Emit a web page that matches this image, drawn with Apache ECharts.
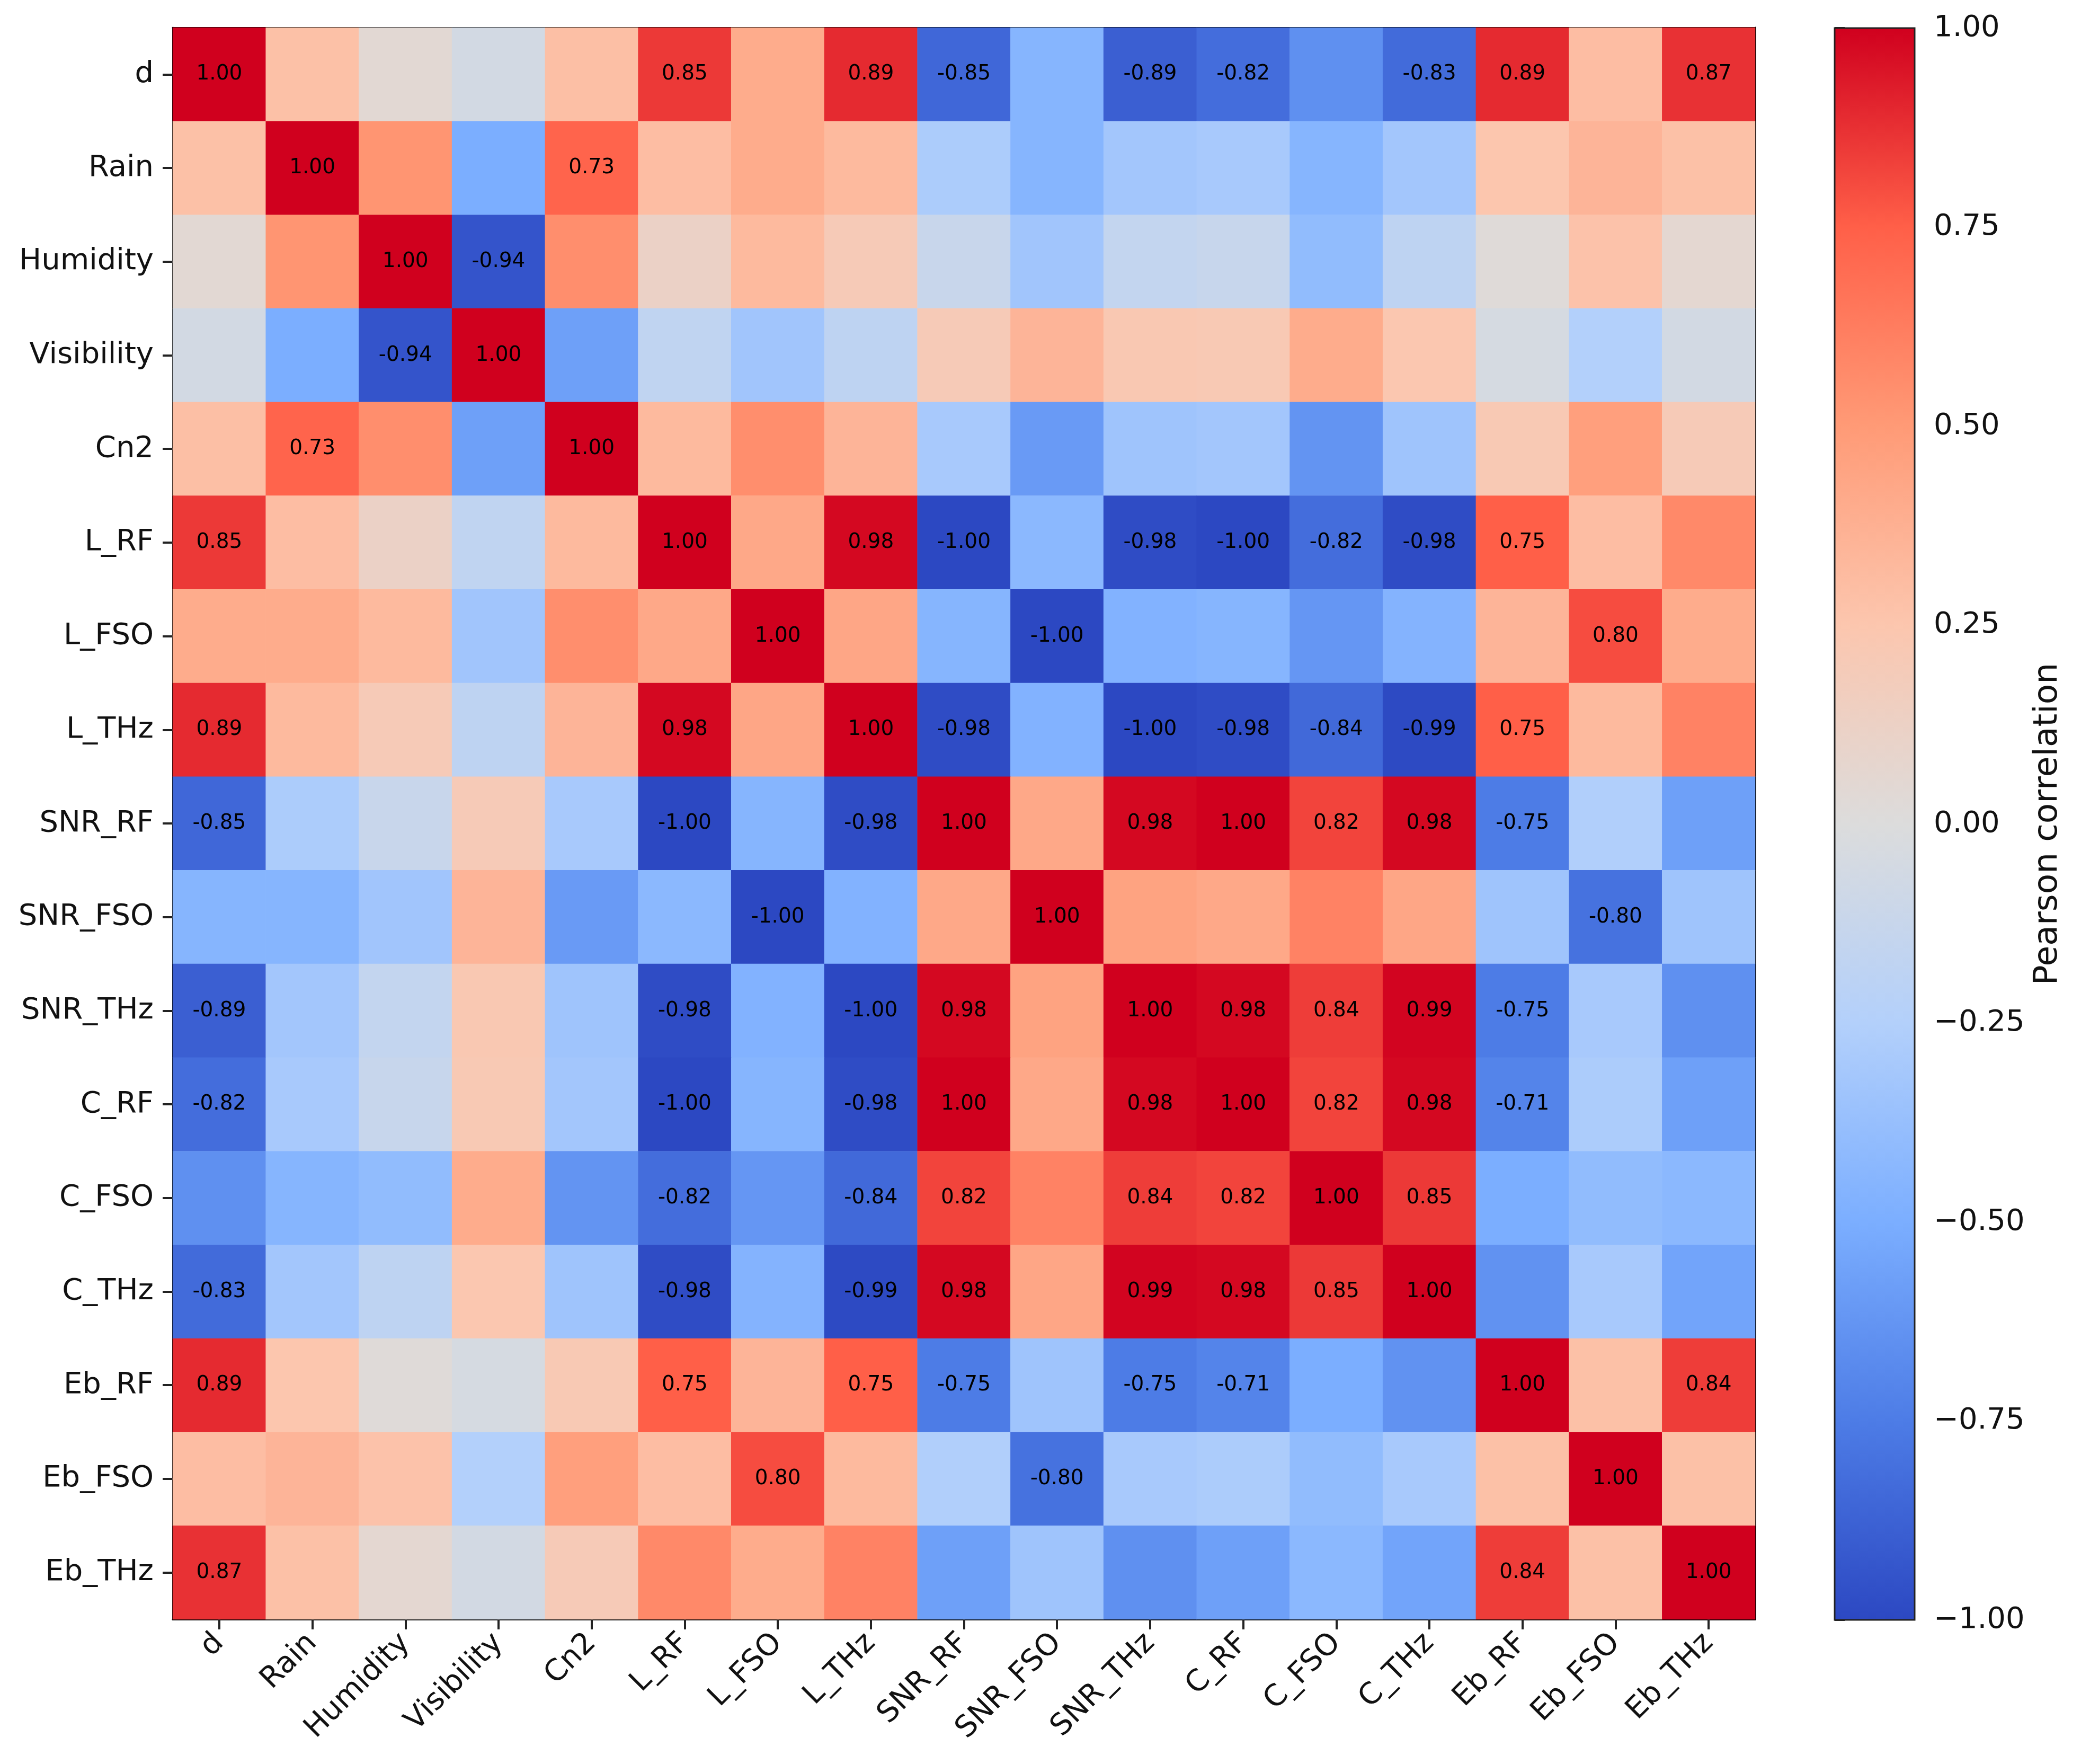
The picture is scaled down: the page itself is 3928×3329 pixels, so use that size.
<!DOCTYPE html>
<html>
<head>
<meta charset="utf-8">
<script src="https://cdn.jsdelivr.net/npm/echarts@6/dist/echarts.min.js"></script>
<style>
  html, body { margin: 0; padding: 0; background: #fff; }
  #chart { width: 3928px; height: 3329px; }
</style>
</head>
<body>
<div id="chart"></div>
<script>
// variables (same order on both axes)
const variables = ['d', 'Rain', 'Humidity', 'Visibility', 'Cn2', 'L_RF', 'L_FSO', 'L_THz',
  'SNR_RF', 'SNR_FSO', 'SNR_THz', 'C_RF', 'C_FSO', 'C_THz', 'Eb_RF', 'Eb_FSO', 'Eb_THz'];

// correlation rows (unlabelled cells estimated from colour)
const row_d        = [1.00, 0.28, 0.05, -0.06, 0.29, 0.85, 0.40, 0.89, -0.85, -0.45, -0.89, -0.82, -0.65, -0.83, 0.89, 0.30, 0.87];
const row_Rain     = [0.28, 1.00, 0.52, -0.50, 0.73, 0.30, 0.40, 0.32, -0.28, -0.45, -0.32, -0.30, -0.45, -0.32, 0.25, 0.35, 0.28];
const row_Humidity = [0.05, 0.52, 1.00, -0.94, 0.55, 0.12, 0.32, 0.20, -0.12, -0.33, -0.15, -0.13, -0.40, -0.18, 0.02, 0.27, 0.06];
const row_Vis      = [-0.06, -0.50, -0.94, 1.00, -0.57, -0.17, -0.33, -0.18, 0.20, 0.35, 0.23, 0.22, 0.40, 0.24, -0.04, -0.25, -0.06];
const row_Cn2      = [0.29, 0.73, 0.55, -0.57, 1.00, 0.32, 0.55, 0.35, -0.30, -0.60, -0.34, -0.32, -0.63, -0.34, 0.22, 0.47, 0.20];
const row_L_RF     = [0.85, 0.30, 0.12, -0.17, 0.32, 1.00, 0.42, 0.98, -1.00, -0.43, -0.98, -1.00, -0.82, -0.98, 0.75, 0.30, 0.57];
const row_L_FSO    = [0.40, 0.40, 0.32, -0.33, 0.55, 0.42, 1.00, 0.43, -0.45, -1.00, -0.47, -0.45, -0.62, -0.46, 0.35, 0.80, 0.40];
const row_L_THz    = [0.89, 0.32, 0.20, -0.18, 0.35, 0.98, 0.43, 1.00, -0.98, -0.47, -1.00, -0.98, -0.84, -0.99, 0.75, 0.32, 0.60];
const row_SNR_RF   = [-0.85, -0.28, -0.12, 0.20, -0.30, -1.00, -0.45, -0.98, 1.00, 0.42, 0.98, 1.00, 0.82, 0.98, -0.75, -0.26, -0.57];
const row_SNR_FSO  = [-0.45, -0.45, -0.33, 0.35, -0.60, -0.43, -1.00, -0.47, 0.42, 1.00, 0.45, 0.42, 0.60, 0.43, -0.34, -0.80, -0.34];
const row_SNR_THz  = [-0.89, -0.32, -0.15, 0.23, -0.34, -0.98, -0.47, -1.00, 0.98, 0.45, 1.00, 0.98, 0.84, 0.99, -0.75, -0.30, -0.65];
const row_C_RF     = [-0.82, -0.30, -0.13, 0.22, -0.32, -1.00, -0.45, -0.98, 1.00, 0.42, 0.98, 1.00, 0.82, 0.98, -0.71, -0.28, -0.57];
const row_C_FSO    = [-0.65, -0.45, -0.40, 0.40, -0.63, -0.82, -0.62, -0.84, 0.82, 0.60, 0.84, 0.82, 1.00, 0.85, -0.50, -0.40, -0.43];
const row_C_THz    = [-0.83, -0.32, -0.18, 0.24, -0.34, -0.98, -0.46, -0.99, 0.98, 0.43, 0.99, 0.98, 0.85, 1.00, -0.64, -0.30, -0.55];
const row_Eb_RF    = [0.89, 0.25, 0.02, -0.04, 0.22, 0.75, 0.35, 0.75, -0.75, -0.34, -0.75, -0.71, -0.50, -0.64, 1.00, 0.28, 0.84];
const row_Eb_FSO   = [0.30, 0.35, 0.27, -0.25, 0.47, 0.30, 0.80, 0.32, -0.26, -0.80, -0.30, -0.28, -0.40, -0.30, 0.28, 1.00, 0.28];
const row_Eb_THz   = [0.87, 0.28, 0.06, -0.06, 0.20, 0.57, 0.40, 0.60, -0.57, -0.34, -0.65, -0.57, -0.43, -0.55, 0.84, 0.28, 1.00];

const rows = [row_d, row_Rain, row_Humidity, row_Vis, row_Cn2, row_L_RF, row_L_FSO, row_L_THz,
  row_SNR_RF, row_SNR_FSO, row_SNR_THz, row_C_RF, row_C_FSO, row_C_THz, row_Eb_RF, row_Eb_FSO, row_Eb_THz];

// colour bar ticks
const cbarTicks = [-1.00, -0.75, -0.50, -0.25, 0.00, 0.25, 0.50, 0.75, 1.00];

// coolwarm-like ramp, from -1 to 1
const cmap = ['#2c48c2', '#4d7ce6', '#7baeff', '#b3d0fb', '#dcdcdc', '#fcc6ae', '#ff9a76', '#ff5f48', '#d0001e'];

const FONT = 'DejaVu Sans';
const TXT = '#111';

// build [x, y, value]
let cells = [];
for (let i = 0; i < rows.length; i++) {
  for (let j = 0; j < rows[i].length; j++) {
    cells.push([j, i, rows[i][j]]);
  }
}

// main grid and colour bar position
const G = { left: 326, top: 52, width: 2987, height: 3004 };
const CB = { left: 3463, top: 53, width: 151, height: 3004 };

const chart = echarts.init(document.getElementById('chart'), null, { renderer: 'canvas' });

chart.setOption({
  backgroundColor: '#fff',
  animation: false,
  textStyle: { fontFamily: FONT },
  grid: [
    { left: G.left, top: G.top, width: G.width, height: G.height },
    { left: CB.left, top: CB.top, width: CB.width, height: CB.height }
  ],
  xAxis: [
    {
      type: 'category', gridIndex: 0, data: variables, position: 'bottom',
      axisLine: { show: true, lineStyle: { color: '#000', width: 3 } },
      axisTick: { show: true, alignWithLabel: true, length: 19, lineStyle: { color: '#222', width: 4 } },
      axisLabel: { rotate: 45, margin: 36, fontSize: 56, color: TXT, fontFamily: FONT, interval: 0 },
      splitLine: { show: false }
    },
    {
      type: 'category', gridIndex: 0, data: variables, position: 'top',
      axisLine: { show: true, lineStyle: { color: '#000', width: 3 } },
      axisTick: { show: false }, axisLabel: { show: false }, splitLine: { show: false }
    },
    { type: 'value', gridIndex: 1, min: 0, max: 1, show: false }
  ],
  yAxis: [
    {
      type: 'category', gridIndex: 0, data: variables, inverse: true, position: 'left',
      axisLine: { show: true, lineStyle: { color: '#000', width: 3 } },
      axisTick: { show: true, alignWithLabel: true, length: 19, lineStyle: { color: '#222', width: 4 } },
      axisLabel: { margin: 36, fontSize: 56, color: TXT, fontFamily: FONT, interval: 0 },
      splitLine: { show: false }
    },
    {
      type: 'category', gridIndex: 0, data: variables, inverse: true, position: 'right',
      axisLine: { show: true, lineStyle: { color: '#000', width: 3 } },
      axisTick: { show: false }, axisLabel: { show: false }, splitLine: { show: false }
    },
    {
      type: 'value', gridIndex: 1, min: cbarTicks[0], max: cbarTicks[cbarTicks.length - 1],
      interval: 0.25, position: 'right',
      name: 'Pearson correlation', nameLocation: 'middle', nameRotate: 90, nameGap: 220,
      nameTextStyle: { fontSize: 63, color: TXT, fontFamily: FONT },
      axisLine: { show: true, lineStyle: { color: '#333', width: 3 } },
      axisTick: { show: true, length: 19, lineStyle: { color: '#222', width: 4 } },
      axisLabel: {
        margin: 36, fontSize: 56, color: TXT, fontFamily: FONT,
        formatter: v => (v < 0 ? '\u2212' : '') + Math.abs(v).toFixed(2)
      },
      splitLine: { show: false }
    }
  ],
  visualMap: {
    show: false, type: 'continuous', min: -1, max: 1, dimension: 2, seriesIndex: 0,
    inRange: { color: cmap }
  },
  graphic: [
    {
      type: 'rect', z: 1,
      shape: { x: CB.left, y: CB.top, width: CB.width, height: CB.height },
      style: {
        fill: new echarts.graphic.LinearGradient(0, 1, 0, 0,
          cmap.map((c, k) => ({ offset: k / (cmap.length - 1), color: c }))),
        stroke: '#222', lineWidth: 3
      }
    }
  ],
  series: [
    {
      type: 'heatmap', xAxisIndex: 0, yAxisIndex: 0, data: cells,
      itemStyle: { borderWidth: 0 },
      label: {
        show: true, fontSize: 39, color: '#000', fontFamily: FONT,
        formatter: p => Math.abs(p.value[2]) >= 0.7 ? p.value[2].toFixed(2) : ''
      },
      emphasis: { disabled: true }
    },
    { type: 'scatter', xAxisIndex: 2, yAxisIndex: 2, data: [], silent: true }
  ]
});
</script>
</body>
</html>
